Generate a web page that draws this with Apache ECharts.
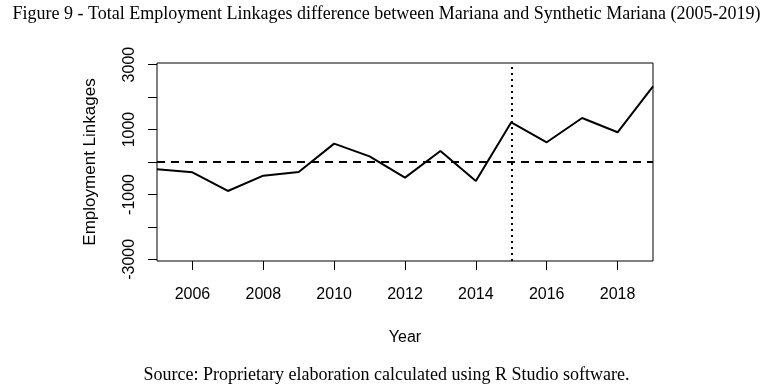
<!DOCTYPE html>
<html>
<head>
<meta charset="utf-8">
<script src="https://cdn.jsdelivr.net/npm/echarts@6/dist/echarts.min.js"></script>
<style>
  html, body { margin: 0; padding: 0; background: #fff; }
  #chart { width: 773px; height: 386px; }
</style>
</head>
<body>
<div id="chart"></div>
<script>
// difference Mariana - Synthetic Mariana
const years = [2005, 2006, 2007, 2008, 2009, 2010, 2011, 2012, 2013, 2014, 2015, 2016, 2017, 2018, 2019]
const gap = [-225, -317, -893, -420, -308, 567, 175, -481, 339, -585, 1223, 607, 1356, 915, 2333]
const xTicks = [2006, 2008, 2010, 2012, 2014, 2016, 2018]
const yTicks = [-3000, -2000, -1000, 0, 1000, 2000, 3000]
const yLabels = [-3000, -1000, 1000, 3000]
const treatYear = 2015

const sans = 'Liberation Sans, Arial, sans-serif'
const serif = 'Liberation Serif, Times New Roman, serif'

let myChart = echarts.init(document.getElementById('chart'))
let option = {
  animation: false,
  title: [
    {
      text: 'Figure 9 - Total Employment Linkages difference between Mariana and Synthetic Mariana (2005-2019)',
      left: 'center',
      top: 0,
      textStyle: { fontFamily: serif, fontSize: 18, fontWeight: 'normal', color: '#000' },
    },
    {
      text: 'Source: Proprietary elaboration calculated using R Studio software.',
      left: 'center',
      top: 361,
      textStyle: { fontFamily: serif, fontSize: 18, fontWeight: 'normal', color: '#000' },
    },
  ],
  grid: {
    left: 157,
    top: 63,
    width: 496,
    height: 198,
    show: true,
    borderColor: '#000',
    borderWidth: 1,
  },
  xAxis: {
    type: 'value',
    min: 2005,
    max: 2019,
    name: 'Year',
    nameLocation: 'middle',
    nameGap: 69,
    nameTextStyle: { fontFamily: sans, fontSize: 16, color: '#000' },
    axisLine: { show: false, onZero: false },
    axisTick: { show: true, length: 9, customValues: xTicks, lineStyle: { color: '#000' } },
    axisLabel: {
      customValues: xTicks,
      margin: 26,
      fontFamily: sans,
      fontSize: 16,
      color: '#000',
      formatter: v => String(v),
    },
    splitLine: { show: false },
  },
  yAxis: {
    type: 'value',
    min: -3050,
    max: 3050,
    name: 'Employment Linkages',
    nameLocation: 'middle',
    nameGap: 58,
    nameTextStyle: { fontFamily: sans, fontSize: 17, color: '#000' },
    axisLine: { show: false, onZero: false },
    axisTick: { show: true, length: 9, customValues: yTicks, lineStyle: { color: '#000' } },
    axisLabel: {
      customValues: yLabels,
      rotate: 90,
      margin: 19,
      fontFamily: sans,
      fontSize: 16,
      color: '#000',
      formatter: v => String(v),
    },
    splitLine: { show: false },
  },
  series: [
    {
      type: 'line',
      data: years.map((y, i) => [y, gap[i]]),
      symbol: 'none',
      lineStyle: { color: '#000', width: 2 },
      markLine: {
        silent: true,
        symbol: 'none',
        label: { show: false },
        data: [
          { yAxis: 0, lineStyle: { type: [8, 6], width: 2, color: '#000' } },
          { xAxis: treatYear, lineStyle: { type: [2, 4], width: 2, color: '#000' } },
        ],
      },
    },
  ],
}
myChart.setOption(option)
</script>
</body>
</html>
